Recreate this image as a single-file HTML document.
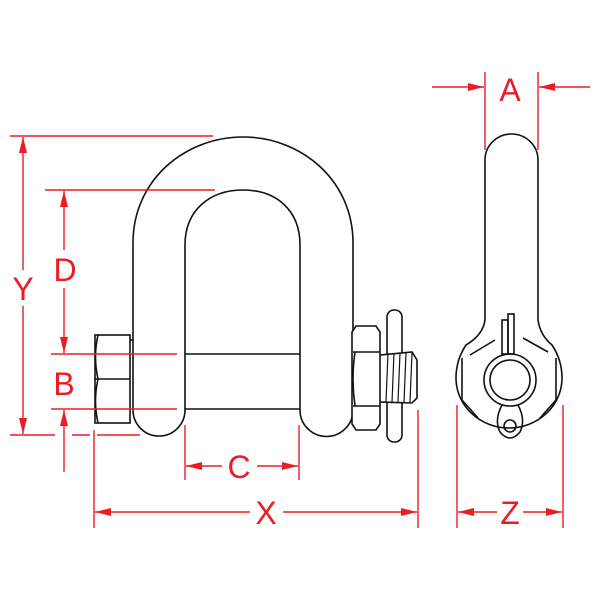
<!DOCTYPE html>
<html><head><style>body{margin:0;background:#fff}svg{display:block}</style></head><body>
<svg width="600" height="600" viewBox="0 0 600 600" xmlns="http://www.w3.org/2000/svg">
<defs>
<marker id="ar" viewBox="0 0 16 8" refX="16" refY="4" markerWidth="16" markerHeight="8" orient="auto" markerUnits="userSpaceOnUse"><path d="M0,0 L16,4 L0,8z" fill="#ed1c24"/></marker>
</defs>
<g fill="none" stroke="#111" stroke-width="1.6">
<path d="M133,410 L133,243 C133,180 185,137 243,137 C301,137 353,180 353,243 L353,410 A26,26 0 0 1 300,410 L300,245 C300,210 276,190 243,190 C210,190 185,210 185,245 L185,410 A26,26 0 0 1 133,410"/>
<line x1="185" y1="354" x2="300" y2="354"/>
<line x1="185" y1="409" x2="300" y2="409"/>
<rect x="95" y="335" width="35" height="88" fill="#fff"/>
<line x1="95" y1="379" x2="130" y2="379"/>
<path d="M98,335 Q93,357 98,379 Q93,401 98,423"/>
<line x1="130" y1="340" x2="133" y2="340"/>
<rect x="387" y="310" width="15" height="132" rx="7" fill="#fff"/>
<path d="M380,355 L412,352 L417,360 L417,398 L412,403 L380,402" fill="#fff"/>
<path d="M388,353 L386,402 M394,353 L392,402 M400,353 L398,402 M406,353 L404,402 M412,353 L410,402" stroke-width="1.2"/>
<path d="M356,326 L376,326 L380,332 L380,424 L376,430 L356,430 L352,424 L352,332z" fill="#fff"/>
<line x1="353" y1="352" x2="380" y2="352"/>
<line x1="353" y1="406" x2="380" y2="406"/>
<path d="M355,352 Q351,379 355,406"/>
<path d="M485,320 L485,160 A26.5,26 0 0 1 538,160 L538,320 Q540,335 552,345 Q562,360 562,378 A53,50 0 0 1 456,378 Q456,360 466,345 Q483,335 485,320"/>
<path d="M470,355 L495,340 M548,352 L523,338 M462,358 L462,400 L478,418 M556,358 L556,400 L540,418"/>
<circle cx="510" cy="380" r="26"/>
<circle cx="510" cy="380" r="20"/>
<rect x="502" y="320" width="6" height="34"/>
<rect x="508" y="314" width="6" height="40"/>
<path d="M502,405 Q494,420 500,432 Q510,444 520,432 Q526,420 518,405"/>
<circle cx="510" cy="426" r="6"/>
</g>
<g stroke="#ed1c24" stroke-width="1.4" fill="none">
<line x1="10" y1="136" x2="213" y2="136"/>
<line x1="10" y1="435" x2="55" y2="435"/><line x1="72" y1="435" x2="90" y2="435"/><line x1="97" y1="435" x2="140" y2="435"/>
<line x1="23" y1="270" x2="23" y2="137" marker-end="url(#ar)"/>
<line x1="23" y1="306" x2="23" y2="434" marker-end="url(#ar)"/>
<line x1="45" y1="190" x2="215" y2="190"/>
<line x1="64" y1="250" x2="64" y2="191" marker-end="url(#ar)"/>
<line x1="64" y1="288" x2="64" y2="353" marker-end="url(#ar)"/>
<line x1="51" y1="354" x2="177" y2="354"/>
<line x1="51" y1="409" x2="177" y2="409"/>
<line x1="64" y1="472" x2="64" y2="410" marker-end="url(#ar)"/>
<line x1="185" y1="425" x2="185" y2="480"/>
<line x1="299" y1="425" x2="299" y2="480"/>
<line x1="222" y1="466" x2="186" y2="466" marker-end="url(#ar)"/>
<line x1="257" y1="466" x2="298" y2="466" marker-end="url(#ar)"/>
<line x1="94" y1="430" x2="94" y2="528"/>
<line x1="418" y1="410" x2="418" y2="528"/>
<line x1="250" y1="512" x2="95" y2="512" marker-end="url(#ar)"/>
<line x1="283" y1="512" x2="417" y2="512" marker-end="url(#ar)"/>
<line x1="457" y1="405" x2="457" y2="528"/>
<line x1="563" y1="405" x2="563" y2="528"/>
<line x1="497" y1="512" x2="458" y2="512" marker-end="url(#ar)"/>
<line x1="523" y1="512" x2="562" y2="512" marker-end="url(#ar)"/>
<line x1="485" y1="72" x2="485" y2="150"/>
<line x1="538" y1="72" x2="538" y2="150"/>
<line x1="432" y1="87" x2="484" y2="87" marker-end="url(#ar)"/>
<line x1="590" y1="87" x2="539" y2="87" marker-end="url(#ar)"/>
</g>
<g fill="#ed1c24" font-family="Liberation Sans, sans-serif" font-size="32" text-anchor="middle">
<text x="510" y="101">A</text>
<text x="23" y="300">Y</text>
<text x="65" y="281">D</text>
<text x="64" y="395">B</text>
<text x="239" y="478">C</text>
<text x="266" y="524">X</text>
<text x="510" y="524">Z</text>
</g>
</svg>
</body></html>
